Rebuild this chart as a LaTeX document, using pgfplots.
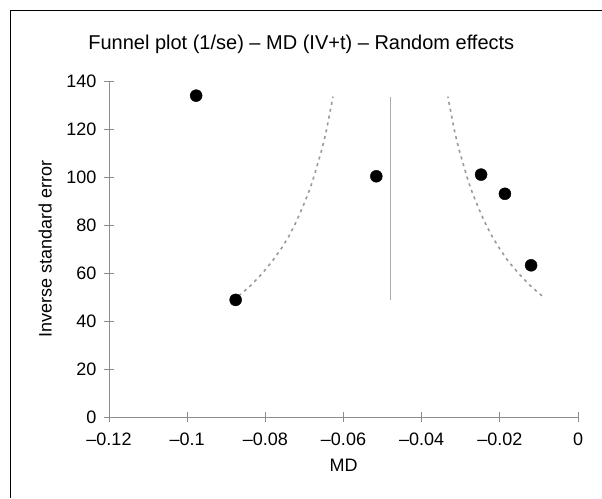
\documentclass[border=0pt]{standalone}
\usepackage{pgfplots}
\pgfplotsset{compat=1.18}
\usepackage{fontspec}
\setmainfont{Liberation Sans}

\definecolor{axisgray}{HTML}{8C8C8C}
\definecolor{funnelgray}{HTML}{9A9A9A}
\definecolor{linegray}{HTML}{ABABAB}

\begin{document}
\begin{tikzpicture}[x=1pt,y=1pt]
\useasboundingbox (0,0) rectangle (602,498);
% frame (cut at right and bottom in the reference)
\draw[black, line width=1pt] (10,0) -- (10,487) -- (602,487);

\begin{axis}[
    at={(109pt,81pt)}, anchor=south west,
    scale only axis,
    width=469pt, height=336pt,
    xmin=-0.12, xmax=0, ymin=0, ymax=140,
    axis x line=bottom, axis y line=left,
    axis line style={axisgray, line width=0.8pt, -},
    xtick={-0.12,-0.1,-0.08,-0.06,-0.04,-0.02,0},
    xticklabels={–0.12,–0.1,–0.08,–0.06,–0.04,–0.02,0},
    ytick={0,20,...,140},
    tick align=center,
    major tick length=10pt,
    tick style={axisgray, line width=0.8pt},
    tick label style={font=\fontsize{18}{21}\selectfont},
    xticklabel style={yshift=-7pt},
    yticklabel style={xshift=-4pt},
    /pgf/number format/assume math mode=true,
    clip=false,
    title={\fontsize{20}{24}\selectfont Funnel plot (1/se) – MD (IV+t) – Random effects},
    title style={at={(0.41,1)}, anchor=south, yshift=18pt},
    xlabel={\fontsize{18}{21}\selectfont MD},
    ylabel={\fontsize{18}{21}\selectfont Inverse standard error},
    xlabel style={at={(axis description cs:0.5,-0.143)}, anchor=center},
    ylabel style={at={(axis description cs:-0.136,0.5)}, anchor=center},
]
% pseudo confidence limits
\addplot[funnelgray, line width=1.6pt, dash pattern=on 3pt off 4pt] coordinates {
(-0.0868,50.5) (-0.0857,52) (-0.0836,55) (-0.0807,60) (-0.0782,65) (-0.0760,70)
(-0.0741,75) (-0.0725,80) (-0.0711,85) (-0.0698,90) (-0.0686,95) (-0.0676,100)
(-0.0667,105) (-0.0658,110) (-0.0650,115) (-0.0643,120) (-0.0637,125)
(-0.0631,130) (-0.0627,133.5)};
\addplot[funnelgray, line width=1.6pt, dash pattern=on 3pt off 4pt] coordinates {
(-0.0092,50.5) (-0.0103,52) (-0.0124,55) (-0.0153,60) (-0.0179,65) (-0.0200,70)
(-0.0219,75) (-0.0235,80) (-0.0249,85) (-0.0262,90) (-0.0274,95) (-0.0284,100)
(-0.0293,105) (-0.0302,110) (-0.0310,115) (-0.0317,120) (-0.0323,125)
(-0.0329,130) (-0.0333,133.5)};
% pooled estimate
\addplot[linegray, line width=1.6pt] coordinates {(-0.048,48.8) (-0.048,133.5)};
% studies
\addplot[only marks, mark=*, mark size=6pt, black] coordinates {
(-0.0977,133.9) (-0.0876,48.8) (-0.0516,100.3) (-0.0248,101.0) (-0.0187,93.0) (-0.0120,63.2)};
\end{axis}
\end{tikzpicture}
\end{document}
